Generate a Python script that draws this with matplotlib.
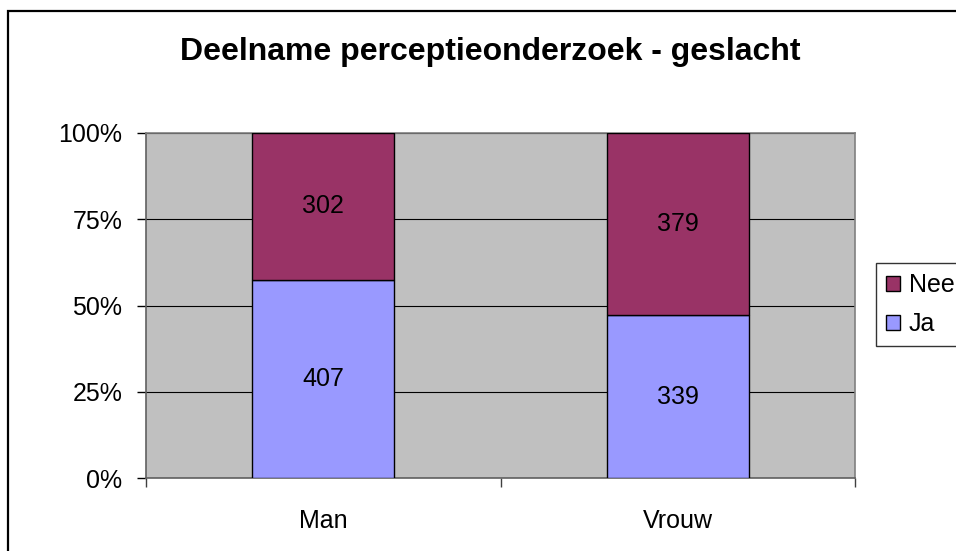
import matplotlib
matplotlib.use("Agg")
import matplotlib.pyplot as plt
from matplotlib.patches import Rectangle
from matplotlib.ticker import FixedLocator

plt.rcParams['font.family'] = ['Liberation Sans', 'DejaVu Sans']

categories = ["Man", "Vrouw"]
ja = [407, 339]
nee = [302, 379]
title = "Deelname perceptieonderzoek - geslacht"
ytick_labels = ["0%", "25%", "50%", "75%", "100%"]

W, H = 956, 551
fig = plt.figure(figsize=(W / 100, H / 100), dpi=100)

# outer chart frame
fig.patches.append(Rectangle((8 / W, -0.05), 1.2, (H - 11) / H + 0.05,
                             transform=fig.transFigure, fill=False,
                             edgecolor="black", linewidth=1.6))

ax = fig.add_axes([146 / W, 1 - 478 / H, (855 - 146) / W, (478 - 133) / H])
ax.set_facecolor("#C0C0C0")

totals = [a + b for a, b in zip(ja, nee)]
ja_pct = [100 * a / t for a, t in zip(ja, totals)]
nee_pct = [100 * b / t for b, t in zip(nee, totals)]
x = list(range(len(categories)))

ax.bar(x, ja_pct, width=0.4, color="#9999FF", edgecolor="black",
       linewidth=1.0, label="Ja", zorder=3)
ax.bar(x, nee_pct, bottom=ja_pct, width=0.4, color="#993366",
       edgecolor="black", linewidth=1.0, label="Nee", zorder=3)

for xi, jp, npc, a, b in zip(x, ja_pct, nee_pct, ja, nee):
    ax.text(xi, jp / 2, str(a), ha="center", va="center", fontsize=18, zorder=4)
    ax.text(xi, jp + npc / 2, str(b), ha="center", va="center", fontsize=18, zorder=4)

ax.set_xlim(-0.5, len(categories) - 0.5)
ax.set_ylim(0, 100)
ax.set_yticks([0, 25, 50, 75, 100])
ax.set_yticklabels(ytick_labels, fontsize=18)
ax.yaxis.grid(True, color="black", linewidth=0.8, zorder=1)
ax.set_axisbelow(True)

ax.xaxis.set_major_locator(FixedLocator([-0.5, 0.5, 1.5]))
ax.set_xticklabels([])
ax.xaxis.set_minor_locator(FixedLocator(x))
ax.set_xticklabels(categories, minor=True, fontsize=18)
ax.tick_params(axis="x", which="minor", length=0, pad=22)
ax.tick_params(axis="x", which="major", length=6.5, width=1, color="#404040")
ax.tick_params(axis="y", length=6.5, width=1, color="black", pad=10.5)

for side in ["top", "right"]:
    ax.spines[side].set_color("#808080")
    ax.spines[side].set_linewidth(1.2)
for side in ["left", "bottom"]:
    ax.spines[side].set_color("#606060")
    ax.spines[side].set_linewidth(1.2)

fig.text(490 / W, 1 - 52 / H, title, ha="center", va="center",
         fontsize=23, fontweight="bold")

handles, labels = ax.get_legend_handles_labels()
leg = fig.legend(handles[::-1], labels[::-1], loc="upper left",
                 bbox_to_anchor=(876 / W, 1 - 263 / H), fontsize=18,
                 frameon=True, fancybox=False, handlelength=0.56,
                 handleheight=0.56, handletextpad=0.36, borderpad=0.4,
                 labelspacing=0.6, borderaxespad=0)
leg.get_frame().set_edgecolor("black")
leg.get_frame().set_linewidth(1.0)

fig.savefig("out.png", dpi=100)
